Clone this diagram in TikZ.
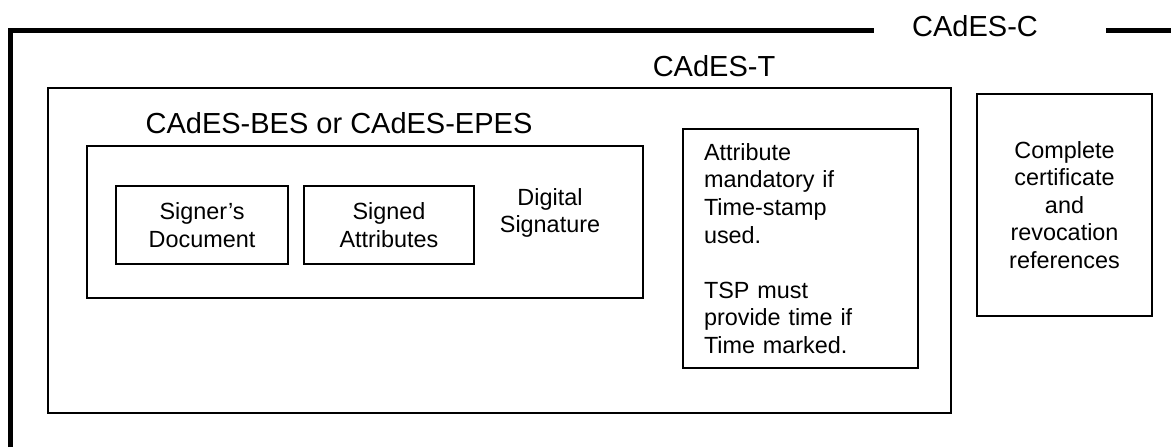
\documentclass[tikz,border=0pt]{standalone}
\usepackage{fontspec}
\setmainfont{Liberation Sans}
\usepackage{tikz}
\usetikzlibrary{positioning}

\tikzset{
   formbox/.style={
      draw,
      line width = 1pt,
      inner sep = 0pt,
      align = center,
      font = \fontsize{11.7}{13.8}\selectfont
   },
   formname/.style={
      inner sep = 0pt,
      anchor = base,
      font = \fontsize{14.5}{16}\selectfont
   }
}

\begin{document}
\begin{tikzpicture}[x=0.5pt,y=-0.5pt]
   \useasboundingbox (0,0) rectangle (1171,447);

   % CAdES-C frame, open at right and bottom
   \draw[line width=2.5pt] (10,447) |- (874,30);
   \draw[line width=2.5pt] (1106,30) -- (1171,30);
   \node[formname] (cadesc) at (975,36) {CAdES-C};

   % CAdES-T
   \node[formbox, minimum width=451.5pt, minimum height=162.5pt] (cadest) at (499.5,250.5) {};
   \node[formname] (cadestname) at (714,76) {CAdES-T};

   % CAdES-BES or CAdES-EPES
   \node[formbox, minimum width=278pt, minimum height=76pt] (bes) at (365,222) {};
   \node[formname] (besname) at (339,133) {CAdES-BES or CAdES-EPES};

   \node[formbox, minimum width=86pt, minimum height=39pt] (signdoc) at (202,225) {Signer’s\\Document};
   \node[formbox, minimum width=85pt, minimum height=39pt] (signattr) at (389,225) {Signed\\Attributes};
   \node[formbox, draw=none] (digsig) at (550,213) {Digital\\Signature};

   \node[formbox, align=left, text width=96.5pt, minimum width=117.5pt, minimum height=119.5pt]
      (tsattr) at (800.5,248.5)
      {Attribute\\mandatory if\\Time-stamp\\used.\\[13.8pt]TSP must\\provide time if\\Time marked.};

   % complete references
   \node[formbox, minimum width=87.5pt, minimum height=111pt] (refs) at (1064.5,205)
      {Complete\\certificate\\and\\revocation\\references};
\end{tikzpicture}
\end{document}
